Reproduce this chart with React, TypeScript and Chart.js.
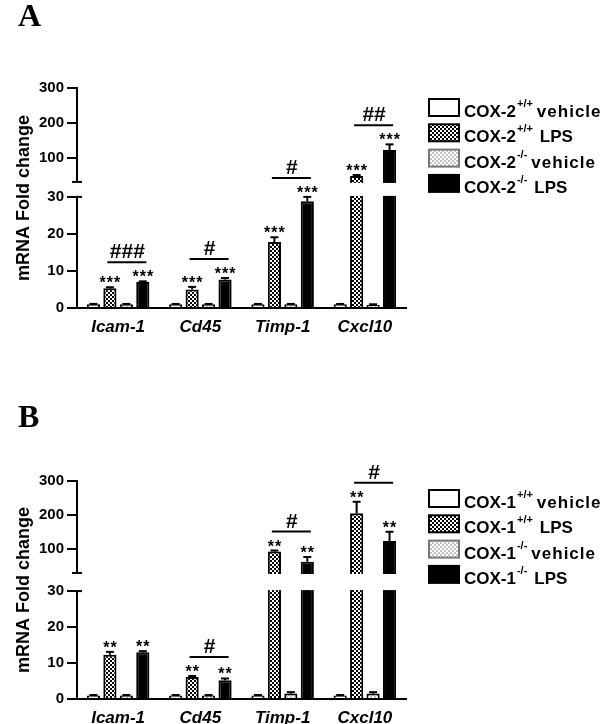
import React, { useEffect, useRef } from "react";
import { Chart, registerables, LinearScale } from "chart.js";

// ---------- data ----------
const categories = ["Icam-1", "Cd45", "Timp-1", "Cxcl10"];
const yTickValues = [0, 10, 20, 30, 100, 200, 300];
const breakValue = 30;
const zygosity = ["+/+", "+/+", "-/-", "-/-"];
const treatment = ["vehicle", "LPS", "vehicle", "LPS"];

// Panel A (COX-2)
const vehWT_A = [1, 1, 1, 1];
const lpsWT_A = [5.3, 5.0, 17.8, 47];
const vehKO_A = [1, 1, 1, 0.8];
const lpsKO_A = [7.0, 7.7, 28.8, 122];
const errVehWT_A = [0.1, 0.1, 0.1, 0.1];
const errLpsWT_A = [0.3, 0.7, 1.3, 3];
const errVehKO_A = [0.1, 0.1, 0.1, 0.2];
const errLpsKO_A = [0.2, 0.4, 1.2, 16];
const starsWT_A = ["***", "***", "***", "***"];
const starsKO_A = ["***", "***", "***", "***"];
const hashA = ["###", "#", "#", "##"];

// Panel B (COX-1)
const vehWT_B = [1, 1, 1, 1];
const lpsWT_B = [12.3, 6.1, 93, 205];
const vehKO_B = [1, 1, 1.5, 1.5];
const lpsKO_B = [13.0, 5.2, 63, 124];
const errVehWT_B = [0.1, 0.1, 0.1, 0.1];
const errLpsWT_B = [0.8, 0.3, 3, 34];
const errVehKO_B = [0.1, 0.1, 0.4, 0.4];
const errLpsKO_B = [0.3, 0.5, 14, 27];
const starsWT_B = ["**", "**", "**", "**"];
const starsKO_B = ["**", "**", "**", "**"];
const hashB = ["", "#", "#", "#"];

const FONT = '"Liberation Sans", Arial, Helvetica, sans-serif';

// ---------- broken (discontinuous) linear scale ----------
class BrokenLinearScale extends LinearScale {
  static id = "brokenLinear";
  buildTicks() {
    const o: any = this.options;
    (this as any).start = this.min;
    (this as any).end = this.max;
    return ((o.tickValues as number[]) || yTickValues).map((v) => ({ value: v }));
  }
  _fr() {
    const o: any = this.options;
    return {
      lf: o.lowerFrac ?? 0.5,
      gf: o.gapFrac ?? 0.07,
      bv: o.breakValue ?? breakValue,
    };
  }
  getPixelForValue(value: number) {
    if (value === null || value === undefined || isNaN(value)) return NaN;
    const { lf, gf, bv } = this._fr();
    let dec;
    if (value <= bv) dec = ((value - this.min) / (bv - this.min)) * lf;
    else dec = lf + gf + ((value - bv) / (this.max - bv)) * (1 - lf - gf);
    return this.getPixelForDecimal(dec);
  }
  getValueForPixel(pixel: number) {
    const { lf, gf, bv } = this._fr();
    const dec = this.getDecimalForPixel(pixel);
    if (dec <= lf) return this.min + (dec / lf) * (bv - this.min);
    if (dec < lf + gf) return bv;
    return bv + ((dec - lf - gf) / (1 - lf - gf)) * (this.max - bv);
  }
}

Chart.register(...registerables, BrokenLinearScale as any);

const panelA = {
  letter: "A",
  gene: "COX-2",
  values: [vehWT_A, lpsWT_A, vehKO_A, lpsKO_A],
  errors: [errVehWT_A, errLpsWT_A, errVehKO_A, errLpsKO_A],
  starsWT: starsWT_A,
  starsKO: starsKO_A,
  hashes: hashA,
  padTop: 88,
  xHeight: 54,
  lowerFrac: 0.505,
  gapFrac: 0.068,
  letterBaseline: 26,
  legendTop: 99,
};

const panelB = {
  letter: "B",
  gene: "COX-1",
  values: [vehWT_B, lpsWT_B, vehKO_B, lpsKO_B],
  errors: [errVehWT_B, errLpsWT_B, errVehKO_B, errLpsKO_B],
  starsWT: starsWT_B,
  starsKO: starsKO_B,
  hashes: hashB,
  padTop: 119,
  xHeight: 25,
  lowerFrac: 0.495,
  gapFrac: 0.083,
  letterBaseline: 65,
  legendTop: 128,
};

function makeChecker(ctx: CanvasRenderingContext2D, a: string, b: string) {
  const c = document.createElement("canvas");
  c.width = 4;
  c.height = 4;
  const g = c.getContext("2d")!;
  g.fillStyle = b;
  g.fillRect(0, 0, 4, 4);
  g.fillStyle = a;
  g.fillRect(0, 0, 2, 2);
  g.fillRect(2, 2, 2, 2);
  return ctx.createPattern(c, "repeat")!;
}

function Panel({ cfg, top }: { cfg: any; top: number }) {
  const ref = useRef<HTMLCanvasElement>(null);
  useEffect(() => {
    const canvas = ref.current!;
    const ctx0 = canvas.getContext("2d")!;
    const checker = makeChecker(ctx0, "#000000", "#ffffff");
    const light = makeChecker(ctx0, "#c4c4c4", "#ffffff");
    const fills: any[] = ["#ffffff", checker, light, "#000000"];

    const line = (ctx: CanvasRenderingContext2D, x1: number, y1: number, x2: number, y2: number) => {
      ctx.beginPath();
      ctx.moveTo(x1, y1);
      ctx.lineTo(x2, y2);
      ctx.stroke();
    };

    const plugin = {
      id: "panelDecor",
      afterDatasetsDraw(chart: any) {
        const ctx: CanvasRenderingContext2D = chart.ctx;
        const ca = chart.chartArea;
        const ys = chart.scales.y;
        const pU = ys.getPixelForValue(breakValue + 1e-6);
        const pL = ys.getPixelForValue(breakValue);
        ctx.save();
        // axis / bar break gap
        ctx.fillStyle = "#ffffff";
        ctx.fillRect(ca.left - 4, pU + 1, ca.right - ca.left + 8, pL - pU - 2);
        ctx.strokeStyle = "#000";
        ctx.lineWidth = 2;
        line(ctx, ca.left - 5, pU, ca.left + 5, pU);
        line(ctx, ca.left, pL, ca.left + 5, pL);

        // error bars (upper only)
        for (let d = 0; d < 4; d++) {
          const meta = chart.getDatasetMeta(d);
          meta.data.forEach((bar: any, j: number) => {
            const v = cfg.values[d][j];
            const e = cfg.errors[d][j];
            if (!(e > 0)) return;
            const yv = ys.getPixelForValue(v);
            const yt = ys.getPixelForValue(v + e);
            line(ctx, bar.x, yv, bar.x, yt);
            line(ctx, bar.x - 4, yt, bar.x + 4, yt);
          });
        }

        // significance marks
        const mWT = chart.getDatasetMeta(1);
        const mKO = chart.getDatasetMeta(3);
        ctx.fillStyle = "#000";
        ctx.textAlign = "center";
        ctx.textBaseline = "alphabetic";
        categories.forEach((_c, j) => {
          const yWT = ys.getPixelForValue(cfg.values[1][j] + cfg.errors[1][j]) - 8;
          const yKO = ys.getPixelForValue(cfg.values[3][j] + cfg.errors[3][j]) - 8;
          const xWT = mWT.data[j].x;
          const xKO = mKO.data[j].x;
          ctx.font = `bold 16px ${FONT}`;
          (ctx as any).letterSpacing = "1px";
          if (cfg.starsWT[j]) ctx.fillText(cfg.starsWT[j], xWT + 0.5, yWT + 9);
          if (cfg.starsKO[j]) ctx.fillText(cfg.starsKO[j], xKO + 0.5, yKO + 9);
          (ctx as any).letterSpacing = "0px";
          if (cfg.hashes[j]) {
            const by = Math.min(yWT, yKO) - 11;
            const mid = (xWT + xKO) / 2;
            line(ctx, mid - 19, by, mid + 20, by);
            ctx.font = `bold 21px ${FONT}`;
            ctx.fillText(cfg.hashes[j], mid + 1, by - 11 + 7);
          }
        });

        // y axis title
        ctx.save();
        ctx.translate(24, (ca.top + ca.bottom) / 2);
        ctx.rotate(-Math.PI / 2);
        ctx.font = `bold 18px ${FONT}`;
        ctx.textAlign = "center";
        ctx.textBaseline = "middle";
        ctx.fillText("mRNA Fold change", 0, 0);
        ctx.restore();

        // panel letter
        ctx.font = 'bold 32px "Liberation Serif", "Times New Roman", serif';
        ctx.textAlign = "left";
        ctx.textBaseline = "alphabetic";
        ctx.fillText(cfg.letter, 18, cfg.letterBaseline);

        // legend
        for (let i = 0; i < 4; i++) {
          const bt = cfg.legendTop + i * 25.3;
          const bx = 429;
          ctx.fillStyle = fills[i];
          ctx.fillRect(bx, bt, 30, 17);
          ctx.strokeStyle = i === 2 ? "#777" : "#000";
          ctx.lineWidth = 2;
          ctx.strokeRect(bx, bt, 30, 17);
          ctx.fillStyle = "#000";
          const base = bt + 18;
          ctx.font = `bold 17px ${FONT}`;
          ctx.textAlign = "left";
          ctx.fillText(cfg.gene, 464, base);
          const gw = ctx.measureText(cfg.gene).width;
          ctx.font = `bold 11px ${FONT}`;
          const sup = zygosity[i];
          const sx = 464 + gw + 1;
          ctx.fillText(sup, sx, bt + 8);
          const supEnd = sx + ctx.measureText(sup).width;
          ctx.font = `bold 17px ${FONT}`;
          if (treatment[i] === "LPS") {
            ctx.fillText(treatment[i], supEnd + 7, base);
          } else {
            (ctx as any).letterSpacing = "1px";
            ctx.fillText(treatment[i], supEnd + 4, base);
            (ctx as any).letterSpacing = "0px";
          }
        }
        ctx.restore();
      },
    };

    const chart = new Chart(canvas, {
      type: "bar",
      data: {
        labels: categories,
        datasets: cfg.values.map((vals: number[], i: number) => ({
          label: `${cfg.gene}${zygosity[i]} ${treatment[i]}`,
          data: vals,
          backgroundColor: fills[i],
          borderColor: "#000",
          borderWidth: 2,
          categoryPercentage: 0.8,
          barPercentage: 0.8,
        })),
      },
      options: {
        responsive: false,
        animation: false,
        events: [],
        devicePixelRatio: 1,
        layout: { padding: { left: 0, top: cfg.padTop, right: 198, bottom: 0 } },
        plugins: { legend: { display: false }, tooltip: { enabled: false } },
        scales: {
          x: {
            type: "category",
            grid: { display: false, drawTicks: false },
            border: { display: true, color: "#000", width: 2 },
            ticks: {
              color: "#000",
              padding: 9,
              font: { family: FONT, size: 17, style: "italic", weight: "bold" },
            },
            afterFit: (s: any) => {
              s.height = cfg.xHeight;
            },
          },
          y: {
            type: "brokenLinear",
            min: 0,
            max: 300,
            tickValues: yTickValues,
            breakValue: breakValue,
            lowerFrac: cfg.lowerFrac,
            gapFrac: cfg.gapFrac,
            grid: {
              display: true,
              drawOnChartArea: false,
              drawTicks: true,
              tickLength: 10,
              color: "#000",
              lineWidth: 2,
            },
            border: { display: true, color: "#000", width: 2 },
            ticks: {
              color: "#000",
              padding: 3,
              autoSkip: false,
              font: { family: FONT, size: 15, weight: "bold" },
              callback: (v: any) => String(v),
            },
            afterFit: (s: any) => {
              s.width = 77;
            },
          } as any,
        },
      },
      plugins: [plugin],
    } as any);
    return () => chart.destroy();
  }, []);
  return (
    <canvas
      ref={ref}
      width={604}
      height={362}
      style={{ position: "absolute", left: 0, top, width: 604, height: 362 }}
    />
  );
}

export default function App() {
  return (
    <div style={{ position: "absolute", left: 0, top: 0, width: 604, height: 724, background: "#fff" }}>
      <Panel cfg={panelA} top={0} />
      <Panel cfg={panelB} top={362} />
    </div>
  );
}
